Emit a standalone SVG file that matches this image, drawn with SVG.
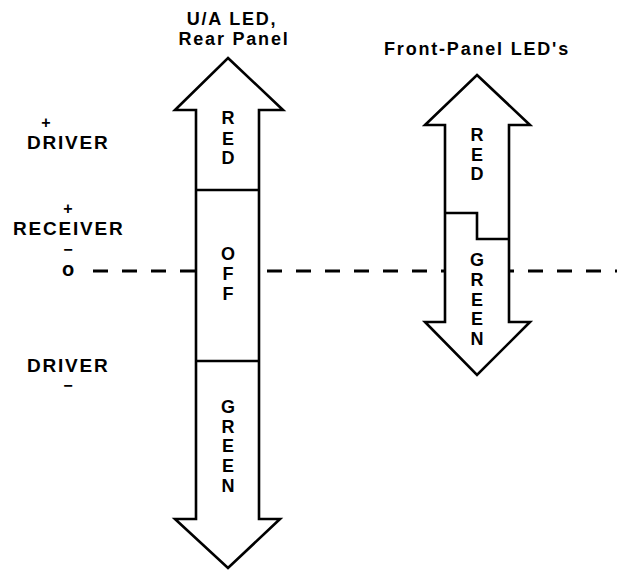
<svg xmlns="http://www.w3.org/2000/svg" width="617" height="570" viewBox="0 0 617 570">
<style>
text{font-family:"Liberation Sans",Arial,sans-serif;font-weight:bold;fill:#000}
.lbl{font-size:18px;letter-spacing:1.8px}
.side{font-size:19px;letter-spacing:1.8px}
.sym{font-size:16px;text-anchor:middle}
.ltr{font-size:18px;text-anchor:middle}
.arrow{fill:#fff;stroke:#000;stroke-width:2.6;stroke-linejoin:miter}
.ln{fill:none;stroke:#000;stroke-width:2.6}
.dash{fill:none;stroke:#000;stroke-width:3;stroke-dasharray:15 14}
</style>
<rect width="617" height="570" fill="#fff"/>
<g id="connectors">
<line class="dash" x1="93" y1="271" x2="617" y2="271"/>
</g>
<g id="labels-left">
<text class="sym" x="46" y="128">+</text>
<text class="side" x="27" y="149">DRIVER</text>
<text class="sym" x="68" y="214">+</text>
<text class="side" x="13" y="235">RECEIVER</text>
<text class="sym" x="68" y="255">−</text>
<text class="sym" x="68" y="276" style="font-size:20px">o</text>
<text class="side" x="27" y="372">DRIVER</text>
<text class="sym" x="68" y="391">−</text>
</g>
<g id="rear-led">
<text class="lbl" x="232" y="25" text-anchor="middle">U/A LED,</text>
<text class="lbl" x="234" y="45" text-anchor="middle">Rear Panel</text>
<polygon class="arrow" points="228,58 283,110 259,110 259,519 280,519 228,568 175,519 196,519 196,110 175,110"/>
<line class="ln" x1="196" y1="190" x2="259" y2="190"/>
<line class="ln" x1="196" y1="361" x2="259" y2="361"/>
<text class="ltr" x="228" y="124">R</text>
<text class="ltr" x="228" y="145">E</text>
<text class="ltr" x="228" y="164">D</text>
<text class="ltr" x="228" y="260">O</text>
<text class="ltr" x="228" y="280">F</text>
<text class="ltr" x="228" y="300">F</text>
<text class="ltr" x="228" y="413">G</text>
<text class="ltr" x="228" y="433">R</text>
<text class="ltr" x="228" y="452">E</text>
<text class="ltr" x="228" y="472">E</text>
<text class="ltr" x="228" y="492">N</text>
</g>
<g id="front-led">
<text class="lbl" x="477" y="55" text-anchor="middle">Front-Panel LED's</text>
<polygon class="arrow" points="477,75 530,125 509,125 509,322 530,322 477,375 425,322 445,322 445,125 425,125"/>
<polyline class="ln" points="445,213 477,213 477,239 509,239"/>
<text class="ltr" x="477" y="141">R</text>
<text class="ltr" x="477" y="161">E</text>
<text class="ltr" x="477" y="180">D</text>
<text class="ltr" x="477" y="266">G</text>
<text class="ltr" x="477" y="286">R</text>
<text class="ltr" x="477" y="306">E</text>
<text class="ltr" x="477" y="325">E</text>
<text class="ltr" x="477" y="345">N</text>
</g>
</svg>
